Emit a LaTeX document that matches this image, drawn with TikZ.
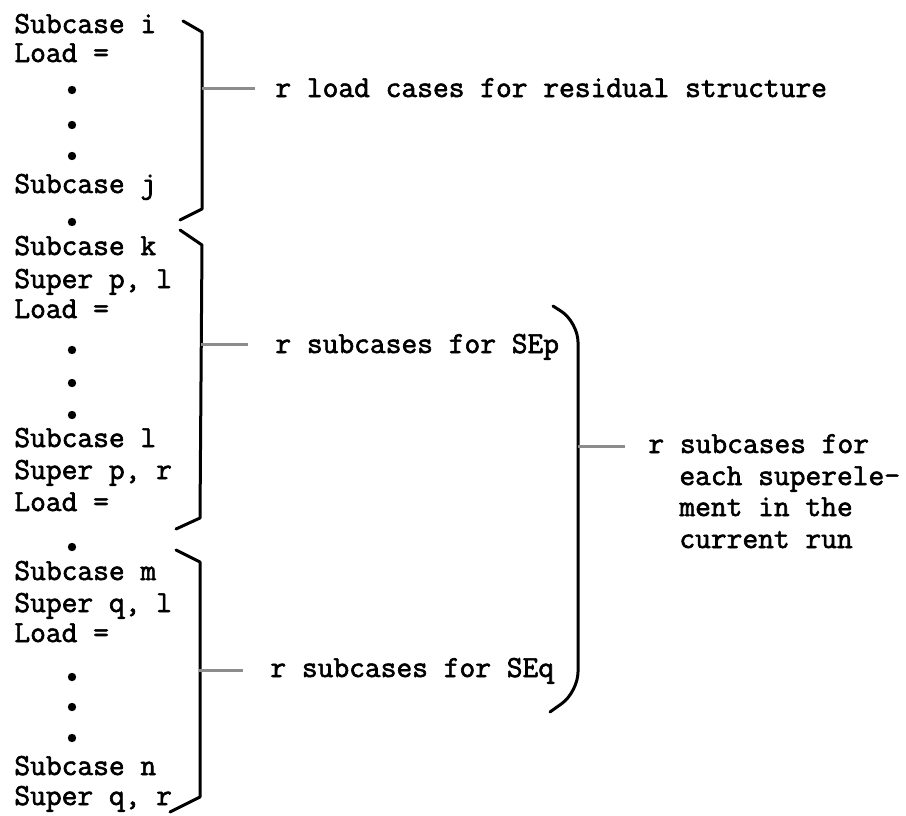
\documentclass[tikz,border=0pt]{standalone}
\usepackage{fontspec}
\setmonofont{Latin Modern Mono}[FakeBold=2]
\begin{document}
\begin{tikzpicture}[x=0.5pt, y=-0.5pt,
    txt/.style={anchor=base west, inner sep=0pt, font=\ttfamily\fontsize{15.3}{15.5}\selectfont},
    brace/.style={line width=1.5pt, line join=round, line cap=round},
    leader/.style={line width=1.5pt, black!45}]
  \useasboundingbox (0,0) rectangle (906,815);
  % left column of subcase cards
  \foreach \yb/\txt [count=\i] in {33/Subcase i, 62/Load =, 193/Subcase j,
      255/Subcase k, 288/{Super p, l}, 318/Load =, 447/Subcase l,
      479/{Super p, r}, 511/Load =, 580/Subcase m, 612/{Super q, l},
      642/Load =, 775/Subcase n, 805/{Super q, r}}
    \node[txt] (line\i) at (14,\yb) {\txt};
  \foreach \yd in {90,125,156,222,350,383,415,547,677,707,738}
    \fill (72,\yd) circle[radius=2.1pt];
  % residual structure
  \draw[brace] (183,21) -- (202,32) -- (202,209) -- (180,220);
  \coordinate (b1) at (202,88);
  \coordinate (l1) at (255,88);
  \draw[leader] (b1) -- (l1);
  \node[txt] (lab1) at (275,97) {r load cases for residual structure};
  % superelement p
  \draw[brace] (180,230) -- (202,245) -- (200,518) -- (176,529);
  \coordinate (b2) at (201,344);
  \coordinate (l2) at (248,344);
  \draw[leader] (b2) -- (l2);
  \node[txt] (lab2) at (275,353) {r subcases for SEp};
  % superelement q
  \draw[brace] (176,550) -- (200,562) -- (200,797) -- (170,812);
  \coordinate (b3) at (199,670);
  \coordinate (l3) at (243,670);
  \draw[leader] (b3) -- (l3);
  \node[txt] (lab3) at (270,677) {r subcases for SEq};
  % all superelements
  \draw[brace, rounded corners=10] (553,306) -- (578,322) -- (578,692) -- (550,712);
  \coordinate (b4) at (578,446);
  \coordinate (l4) at (625,446);
  \draw[leader] (b4) -- (l4);
  \node[txt] (lab4) at (648,453) {r subcases for};
  \node[txt] (lab4b) at (679,485) {each superele-};
  \node[txt] (lab4c) at (679,516) {ment in the};
  \node[txt] (lab4d) at (679,548) {current run};
\end{tikzpicture}
\end{document}
